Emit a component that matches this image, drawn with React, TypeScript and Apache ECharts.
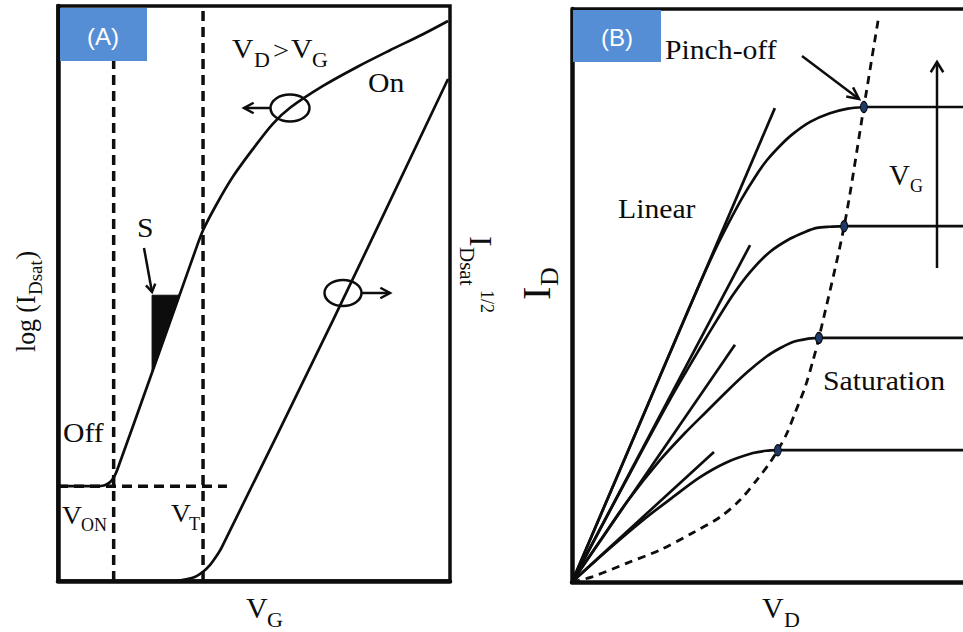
import React, { useEffect, useRef } from "react";
import * as echarts from "echarts";

type P = [number, number];

// ---------- Panel A: log(I_Dsat) (left axis) and I_Dsat^1/2 (right axis) vs V_G, arbitrary units 0–10 ----------
const logIdsat: P[] = [
  [0.05, 1.65], [0.94, 1.65], [1.17, 1.66], [1.33, 1.72], [1.43, 1.81], [1.51, 1.93],
  [2.35, 3.53], [3.11, 4.99], [3.49, 5.72], [3.7, 6.1], [4.06, 6.57], [4.46, 7.03],
  [4.97, 7.51], [5.48, 7.95], [5.92, 8.23], [6.76, 8.61], [7.63, 8.94], [8.47, 9.23],
  [9.31, 9.51], [9.95, 9.74],
];
const sqrtIdsat: P[] = [
  [3.01, 0.0], [3.27, 0.03], [3.49, 0.07], [3.7, 0.16], [3.88, 0.28], [4.03, 0.42],
  [4.18, 0.59], [7.02, 4.54], [9.95, 8.73],
];
const slopeTriangle: P[] = [[2.4, 4.97], [3.11, 4.97], [2.4, 3.62]];
const vOn = 1.42;
const vT = 3.7;
const offCurrent = 1.65;
const offLineEnd = 4.31;

// ---------- Panel B: I_D vs V_D output characteristics, arbitrary units ----------
const satCurrent = [8.29, 6.21, 4.26, 2.3];
const pinchOffVd = [6.95, 6.48, 5.88, 4.9];
const outCurves: P[][] = [
  [[0, 0], [1.26, 2.16], [2.5, 4.29], [3.05, 5.22], [3.43, 5.83], [3.74, 6.28], [4.05, 6.7], [4.36, 7.07], [4.64, 7.36], [4.95, 7.61], [5.26, 7.82], [5.67, 8.03], [6.14, 8.18], [6.57, 8.26], [6.95, 8.29]],
  [[0, 0], [1.52, 2.09], [2.33, 3.18], [3.12, 4.17], [3.45, 4.57], [3.83, 5.01], [4.24, 5.41], [4.71, 5.76], [5.19, 5.99], [5.55, 6.11], [5.83, 6.18], [6.14, 6.2], [6.48, 6.21]],
  [[0, 0], [0.67, 0.72], [1.31, 1.4], [2.1, 2.13], [2.69, 2.6], [3.21, 2.98], [3.69, 3.33], [4.17, 3.66], [4.64, 3.94], [4.95, 4.08], [5.26, 4.19], [5.57, 4.24], [5.88, 4.26]],
  [[0, 0], [0.9, 0.59], [1.69, 1.08], [2.4, 1.48], [3.05, 1.83], [3.69, 2.09], [4.31, 2.25], [4.62, 2.29], [4.9, 2.3]],
];
const linearTangentEnds: P[] = [[4.83, 8.27], [4.24, 5.88], [3.88, 4.14], [3.38, 2.27]];
const pinchOffLocus: P[] = [
  [0, 0], [0.48, 0.09], [1.31, 0.33], [2.1, 0.56], [2.88, 0.86], [3.52, 1.13], [4.0, 1.43],
  [4.4, 1.78], [4.71, 2.08], [4.9, 2.3], [5.12, 2.6], [5.31, 2.95], [5.55, 3.4], [5.74, 3.87],
  [5.88, 4.26], [6.48, 6.21], [6.95, 8.29], [7.29, 9.81],
];
const vdMax = 9.31; // visible V_D range (the panel is cut off at the right edge)
const idMax = 10;

const INK = "#0d0d0d";
const BOX = "#558ED5";

const serif = (s: number) => `${s}px "Liberation Serif", "Times New Roman", serif`;

function txt(text: string, x: number, y: number, size: number, sx = 1.1, align = "left", fill = INK, font?: string): any {
  return {
    type: "text",
    x,
    y,
    scaleX: sx,
    z: 50,
    silent: true,
    style: {
      text,
      x: 0,
      y: 0,
      font: font || serif(size),
      fill,
      textAlign: align,
      textVerticalAlign: "middle",
      verticalAlign: "middle",
    },
  };
}

function arrow(x1: number, y1: number, x2: number, y2: number, head = 10, spread = 0.5, lw = 2.5): any[] {
  const a = Math.atan2(y2 - y1, x2 - x1);
  const p1 = [x2 - head * Math.cos(a - spread), y2 - head * Math.sin(a - spread)];
  const p2 = [x2 - head * Math.cos(a + spread), y2 - head * Math.sin(a + spread)];
  return [
    { type: "line", z: 50, silent: true, shape: { x1, y1, x2, y2 }, style: { stroke: INK, lineWidth: lw } },
    { type: "polyline", z: 50, silent: true, shape: { points: [p1, [x2, y2], p2] }, style: { stroke: INK, lineWidth: lw, fill: "none" } },
  ];
}

function axis(gridIndex: number, max: number, lw: number): any {
  return {
    type: "value",
    gridIndex,
    min: 0,
    max,
    axisLine: { show: true, onZero: false, lineStyle: { color: INK, width: lw } },
    axisTick: { show: false },
    axisLabel: { show: false },
    splitLine: { show: false },
  };
}

function line(data: P[], idx: number, opts: any = {}): any {
  return {
    type: "line",
    xAxisIndex: idx,
    yAxisIndex: idx,
    data,
    symbol: "none",
    silent: true,
    smooth: opts.smooth ?? false,
    clip: opts.clip ?? true,
    z: opts.z ?? 2,
    lineStyle: { color: INK, width: opts.width ?? 2.7, type: opts.dash ?? "solid", cap: "butt" },
  };
}

function buildOption(): any {
  const series: any[] = [
    // Panel A
    line([[vOn, 0], [vOn, 10]], 0, { dash: [10, 6], width: 3.5 }),
    line([[vT, 0], [vT, 10]], 0, { dash: [10, 6], width: 3.5 }),
    line([[0, offCurrent], [offLineEnd, offCurrent]], 0, { dash: [10, 6], width: 3.5 }),
    line(logIdsat, 0, { smooth: 0.3, z: 3 }),
    line(sqrtIdsat, 0, { smooth: 0.3, z: 3 }),
    {
      type: "custom",
      xAxisIndex: 0,
      yAxisIndex: 0,
      silent: true,
      z: 4,
      data: [slopeTriangle[0]],
      renderItem: (_p: any, api: any) => ({
        type: "polygon",
        shape: { points: slopeTriangle.map((pt) => api.coord(pt)) },
        style: { fill: INK, stroke: INK, lineWidth: 1 },
      }),
    },
    // Panel B frame top
    line([[0, idMax], [vdMax, idMax]], 1, { width: 3.5, clip: false }),
    // Panel B
    ...outCurves.map((c) => line(c, 1, { smooth: 0.3, z: 3 })),
    ...linearTangentEnds.map((e) => line([[0, 0], e], 1, { z: 3 })),
    ...satCurrent.map((s, i) => line([[pinchOffVd[i], s], [vdMax, s]], 1, { z: 3 })),
    line(pinchOffLocus, 1, { smooth: 0.3, dash: [8, 6], width: 2.8, z: 3 }),
    {
      type: "scatter",
      xAxisIndex: 1,
      yAxisIndex: 1,
      silent: true,
      z: 5,
      symbol: "circle",
      symbolSize: [7, 11],
      data: pinchOffVd.map((x, i) => [x, satCurrent[i]]),
      itemStyle: { color: "#1F3A68", borderColor: "#000", borderWidth: 1, opacity: 1 },
    },
  ];

  const sans = `24px "Liberation Sans", Arial, sans-serif`;

  const graphic: any[] = [
    // panel tags
    { type: "rect", z: 40, silent: true, shape: { x: 60, y: 8, width: 87, height: 53 }, style: { fill: BOX } },
    txt("(A)", 103, 36, 24, 1, "center", "#ffffff", sans),
    { type: "rect", z: 40, silent: true, shape: { x: 573, y: 10, width: 88, height: 52 }, style: { fill: BOX } },
    txt("(B)", 617, 37, 24, 1, "center", "#ffffff", sans),

    // Panel A texts
    txt("V", 232, 49, 27),
    txt("D", 254, 60, 20),
    txt(">", 273, 50, 26),
    txt("V", 291, 49, 27),
    txt("G", 312, 60, 20),
    txt("On", 368, 83, 27),
    txt("S", 137, 228, 27),
    txt("Off", 63, 433, 27),
    txt("V", 62, 516, 25),
    txt("ON", 81, 525, 18, 1),
    txt("V", 171, 514, 25),
    txt("T", 189, 524, 18, 1),
    txt("V", 246, 607, 30, 1),
    txt("G", 267, 619, 22, 1),

    // Panel B texts
    txt("Pinch-off", 665, 50, 27),
    txt("Linear", 618, 209, 27),
    txt("Saturation", 823, 381, 27),
    txt("V", 889, 175, 29, 1),
    txt("G", 910, 186, 18, 1),
    txt("V", 762, 607, 30, 1),
    txt("D", 784, 619, 22, 1),

    // rotated axis titles
    {
      type: "group", x: 25.5, y: 352, rotation: Math.PI / 2,
      children: [txt("log (I", 0, 0, 28, 0.92), txt("Dsat", 57, 10, 19, 1), txt(")", 92.5, 0, 28, 0.92)],
    },
    {
      type: "group", x: 481, y: 236, rotation: -Math.PI / 2,
      children: [txt("I", 0, 0, 32, 1), txt("Dsat", 11, 14, 21, 1), txt("1/2", 54, -5.5, 18, 1)],
    },
    {
      type: "group", x: 536, y: 300, rotation: Math.PI / 2,
      children: [txt("I", 0, 0, 40, 1), txt("D", 14, 13, 26, 1)],
    },

    // axis-assignment ellipses
    { type: "ellipse", z: 50, silent: true, shape: { cx: 290, cy: 108, rx: 19.5, ry: 13.5 }, style: { fill: "none", stroke: INK, lineWidth: 2.5 } },
    { type: "ellipse", z: 50, silent: true, shape: { cx: 343, cy: 293, rx: 18.5, ry: 13 }, style: { fill: "none", stroke: INK, lineWidth: 2.5 } },
    ...arrow(270, 108, 244, 108, 11, 0.5),
    ...arrow(362, 293, 390, 293, 11, 0.5),
    ...arrow(144, 248, 152, 292, 9, 0.55),
    ...arrow(802, 56, 859, 99, 13, 0.45),
    ...arrow(937, 268, 937, 62, 12, 0.55),
  ];

  return {
    animation: false,
    backgroundColor: "#ffffff",
    grid: [
      { left: 58, top: 6, width: 392, height: 575, show: true, borderColor: INK, borderWidth: 3.5, backgroundColor: "transparent" },
      { left: 572, top: 9, width: 391, height: 573, show: false },
    ],
    xAxis: [axis(0, 10, 4.5), axis(1, vdMax, 4.5)],
    yAxis: [axis(0, 10, 4.5), axis(1, idMax, 4.5)],
    series,
    graphic,
  };
}

export default function App() {
  const ref = useRef<HTMLDivElement>(null);
  useEffect(() => {
    if (!ref.current) return;
    const chart = echarts.init(ref.current, undefined, { renderer: "svg" });
    chart.setOption(buildOption());
    return () => chart.dispose();
  }, []);
  return (
    <div
      ref={ref}
      style={{ position: "fixed", left: 0, top: 0, width: 963, height: 632, background: "#fff" }}
    />
  );
}
